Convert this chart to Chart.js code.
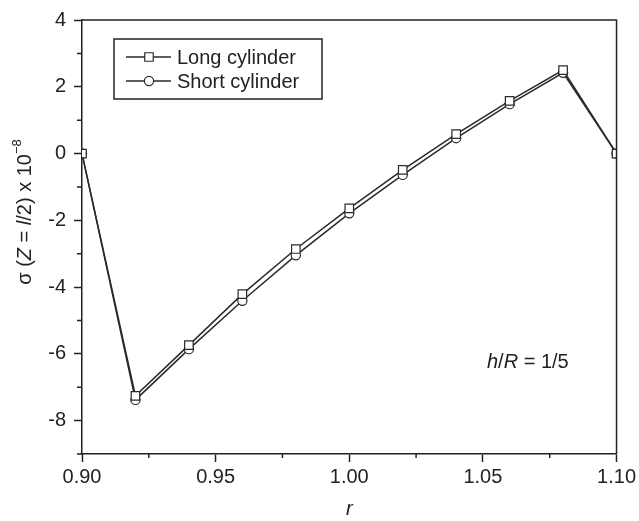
<!DOCTYPE html>
<html>
<head>
<meta charset="utf-8">
<script src="https://cdn.jsdelivr.net/npm/chart.js@4"></script>
<style>
  html, body { margin: 0; padding: 0; background: #fff; }
  #chart { display: block; }
</style>
</head>
<body>
<canvas id="chart" width="639" height="521"></canvas>
<script>
// r (x axis)
const rValues = [0.90, 0.92, 0.94, 0.96, 0.98, 1.00, 1.02, 1.04, 1.06, 1.08, 1.10];
// sigma (Z = l/2) x 10^-8
const longCylinder = [0, -7.26, -5.74, -4.21, -2.86, -1.64, -0.49, 0.58, 1.58, 2.50, 0];
const shortCylinder = [0, -7.38, -5.86, -4.41, -3.05, -1.79, -0.64, 0.46, 1.48, 2.42, 0];
const seriesNames = ['Long cylinder', 'Short cylinder'];
const seriesMarkers = ['rect', 'circle'];

const xMin = 0.90, xMax = 1.10, xStep = 0.05;
const yMin = -9, yMax = 4, yStep = 2;
const xMinorTicks = [0.925, 0.975, 1.025, 1.075];
const yMinorTicks = [-9, -7, -5, -3, -1, 1, 3];

const FONT = '"Liberation Sans", Arial, sans-serif';
const INK = '#222';

function toPoints(ys) {
  return rValues.map((r, i) => ({ x: r, y: ys[i] }));
}

// couper les marqueurs au bord du cadre
const clipPlugin = {
  id: 'clipArea',
  beforeDatasetsDraw(chart) {
    const a = chart.chartArea;
    chart.ctx.save();
    chart.ctx.beginPath();
    chart.ctx.rect(a.left, a.top, a.right - a.left, a.bottom - a.top);
    chart.ctx.clip();
  },
  afterDatasetsDraw(chart) {
    chart.ctx.restore();
  }
};

// cadre haut/droite + petites graduations
const framePlugin = {
  id: 'frame',
  afterDraw(chart) {
    const ctx = chart.ctx;
    const a = chart.chartArea;
    const xs = chart.scales.x, ys = chart.scales.y;
    ctx.save();
    ctx.strokeStyle = INK;
    ctx.lineWidth = 1.5;
    ctx.beginPath();
    ctx.moveTo(a.left, a.top);
    ctx.lineTo(a.right, a.top);
    ctx.lineTo(a.right, a.bottom);
    ctx.stroke();
    ctx.beginPath();
    xMinorTicks.forEach(v => {
      const px = xs.getPixelForValue(v);
      ctx.moveTo(px, a.bottom);
      ctx.lineTo(px, a.bottom + 4);
    });
    yMinorTicks.forEach(v => {
      const py = ys.getPixelForValue(v);
      ctx.moveTo(a.left, py);
      ctx.lineTo(a.left - 5, py);
    });
    ctx.stroke();
    ctx.restore();
  }
};

// texte avec morceaux en italique / exposant
function drawRich(ctx, parts, x, y, align) {
  let total = 0;
  parts.forEach(p => {
    ctx.font = (p.italic ? 'italic ' : '') + (p.size || 20) + 'px ' + FONT;
    p.w = ctx.measureText(p.t).width;
    total += p.w;
  });
  let cx = align === 'center' ? x - total / 2 : x;
  parts.forEach(p => {
    ctx.font = (p.italic ? 'italic ' : '') + (p.size || 20) + 'px ' + FONT;
    ctx.fillText(p.t, cx, y + (p.dy || 0));
    cx += p.w;
  });
}

const labelsPlugin = {
  id: 'labels',
  afterDraw(chart) {
    const ctx = chart.ctx;
    ctx.save();
    ctx.fillStyle = INK;
    ctx.textBaseline = 'middle';

    // titre axe y
    ctx.save();
    ctx.translate(25, 212);
    ctx.rotate(-Math.PI / 2);
    drawRich(ctx, [
      { t: 'σ (' }, { t: 'Z', italic: true }, { t: ' = ' },
      { t: 'l', italic: true }, { t: '/2) x 10' },
      { t: '−8', size: 13, dy: -8 }
    ], 0, 0, 'center');
    ctx.restore();

    // h/R = 1/5
    drawRich(ctx, [
      { t: 'h', italic: true }, { t: '/' }, { t: 'R', italic: true }, { t: ' = 1/5' }
    ], 487, 362, 'left');

    // légende
    const lx = 114, ly = 39, lw = 208, lh = 60;
    ctx.strokeStyle = INK;
    ctx.lineWidth = 1.5;
    ctx.strokeRect(lx, ly, lw, lh);
    chart.data.datasets.forEach((ds, i) => {
      const y = ly + 18 + i * 24;
      ctx.strokeStyle = ds.borderColor;
      ctx.lineWidth = ds.borderWidth;
      ctx.beginPath();
      ctx.moveTo(lx + 12, y);
      ctx.lineTo(lx + 57, y);
      ctx.stroke();
      ctx.fillStyle = '#fff';
      ctx.lineWidth = ds.pointBorderWidth;
      Chart.helpers.drawPoint(ctx, {
        pointStyle: ds.pointStyle, radius: ds.pointRadius,
        borderWidth: ds.pointBorderWidth, rotation: 0
      }, lx + 35, y);
      ctx.fillStyle = INK;
      ctx.font = '20px ' + FONT;
      ctx.fillText(ds.label, lx + 63, y + 1);
    });
    ctx.restore();
  }
};

new Chart(document.getElementById('chart'), {
  type: 'line',
  data: {
    datasets: [
      {
        label: seriesNames[0],
        data: toPoints(longCylinder),
        borderColor: '#2a2a2a',
        borderWidth: 1.5,
        pointStyle: seriesMarkers[0],
        pointRadius: 6,
        pointBackgroundColor: '#fff',
        pointBorderColor: '#2a2a2a',
        pointBorderWidth: 1.2
      },
      {
        label: seriesNames[1],
        data: toPoints(shortCylinder),
        borderColor: '#2a2a2a',
        borderWidth: 1.5,
        pointStyle: seriesMarkers[1],
        pointRadius: 4.6,
        pointBackgroundColor: '#fff',
        pointBorderColor: '#2a2a2a',
        pointBorderWidth: 1.2
      }
    ]
  },
  options: {
    responsive: false,
    animation: false,
    devicePixelRatio: 1,
    layout: { padding: { left: 0, right: 20, top: 20, bottom: 0 } },
    plugins: {
      legend: { display: false },
      tooltip: { enabled: false }
    },
    scales: {
      x: {
        type: 'linear',
        min: xMin,
        max: xMax,
        afterFit(s) { s.height = 67; },
        border: { display: true, color: INK, width: 1.5 },
        grid: { drawOnChartArea: false, drawTicks: true, tickLength: 8, tickColor: INK, tickWidth: 1.5 },
        ticks: {
          stepSize: xStep,
          padding: 3,
          color: INK,
          font: { family: FONT, size: 20 },
          maxRotation: 0,
          callback: v => v.toFixed(2)
        },
        title: {
          display: true,
          text: 'r',
          color: INK,
          font: { family: FONT, size: 20, style: 'italic', lineHeight: 1.2 },
          padding: { top: 0, bottom: 0 }
        }
      },
      y: {
        type: 'linear',
        min: yMin,
        max: yMax,
        afterFit(s) { s.width = 82; },
        border: { display: true, color: INK, width: 1.5 },
        grid: { drawOnChartArea: false, drawTicks: true, tickLength: 8, tickColor: INK, tickWidth: 1.5 },
        ticks: {
          stepSize: yStep,
          includeBounds: false,
          padding: 8,
          color: INK,
          font: { family: FONT, size: 20 }
        }
      }
    }
  },
  plugins: [clipPlugin, framePlugin, labelsPlugin]
});
</script>
</body>
</html>
